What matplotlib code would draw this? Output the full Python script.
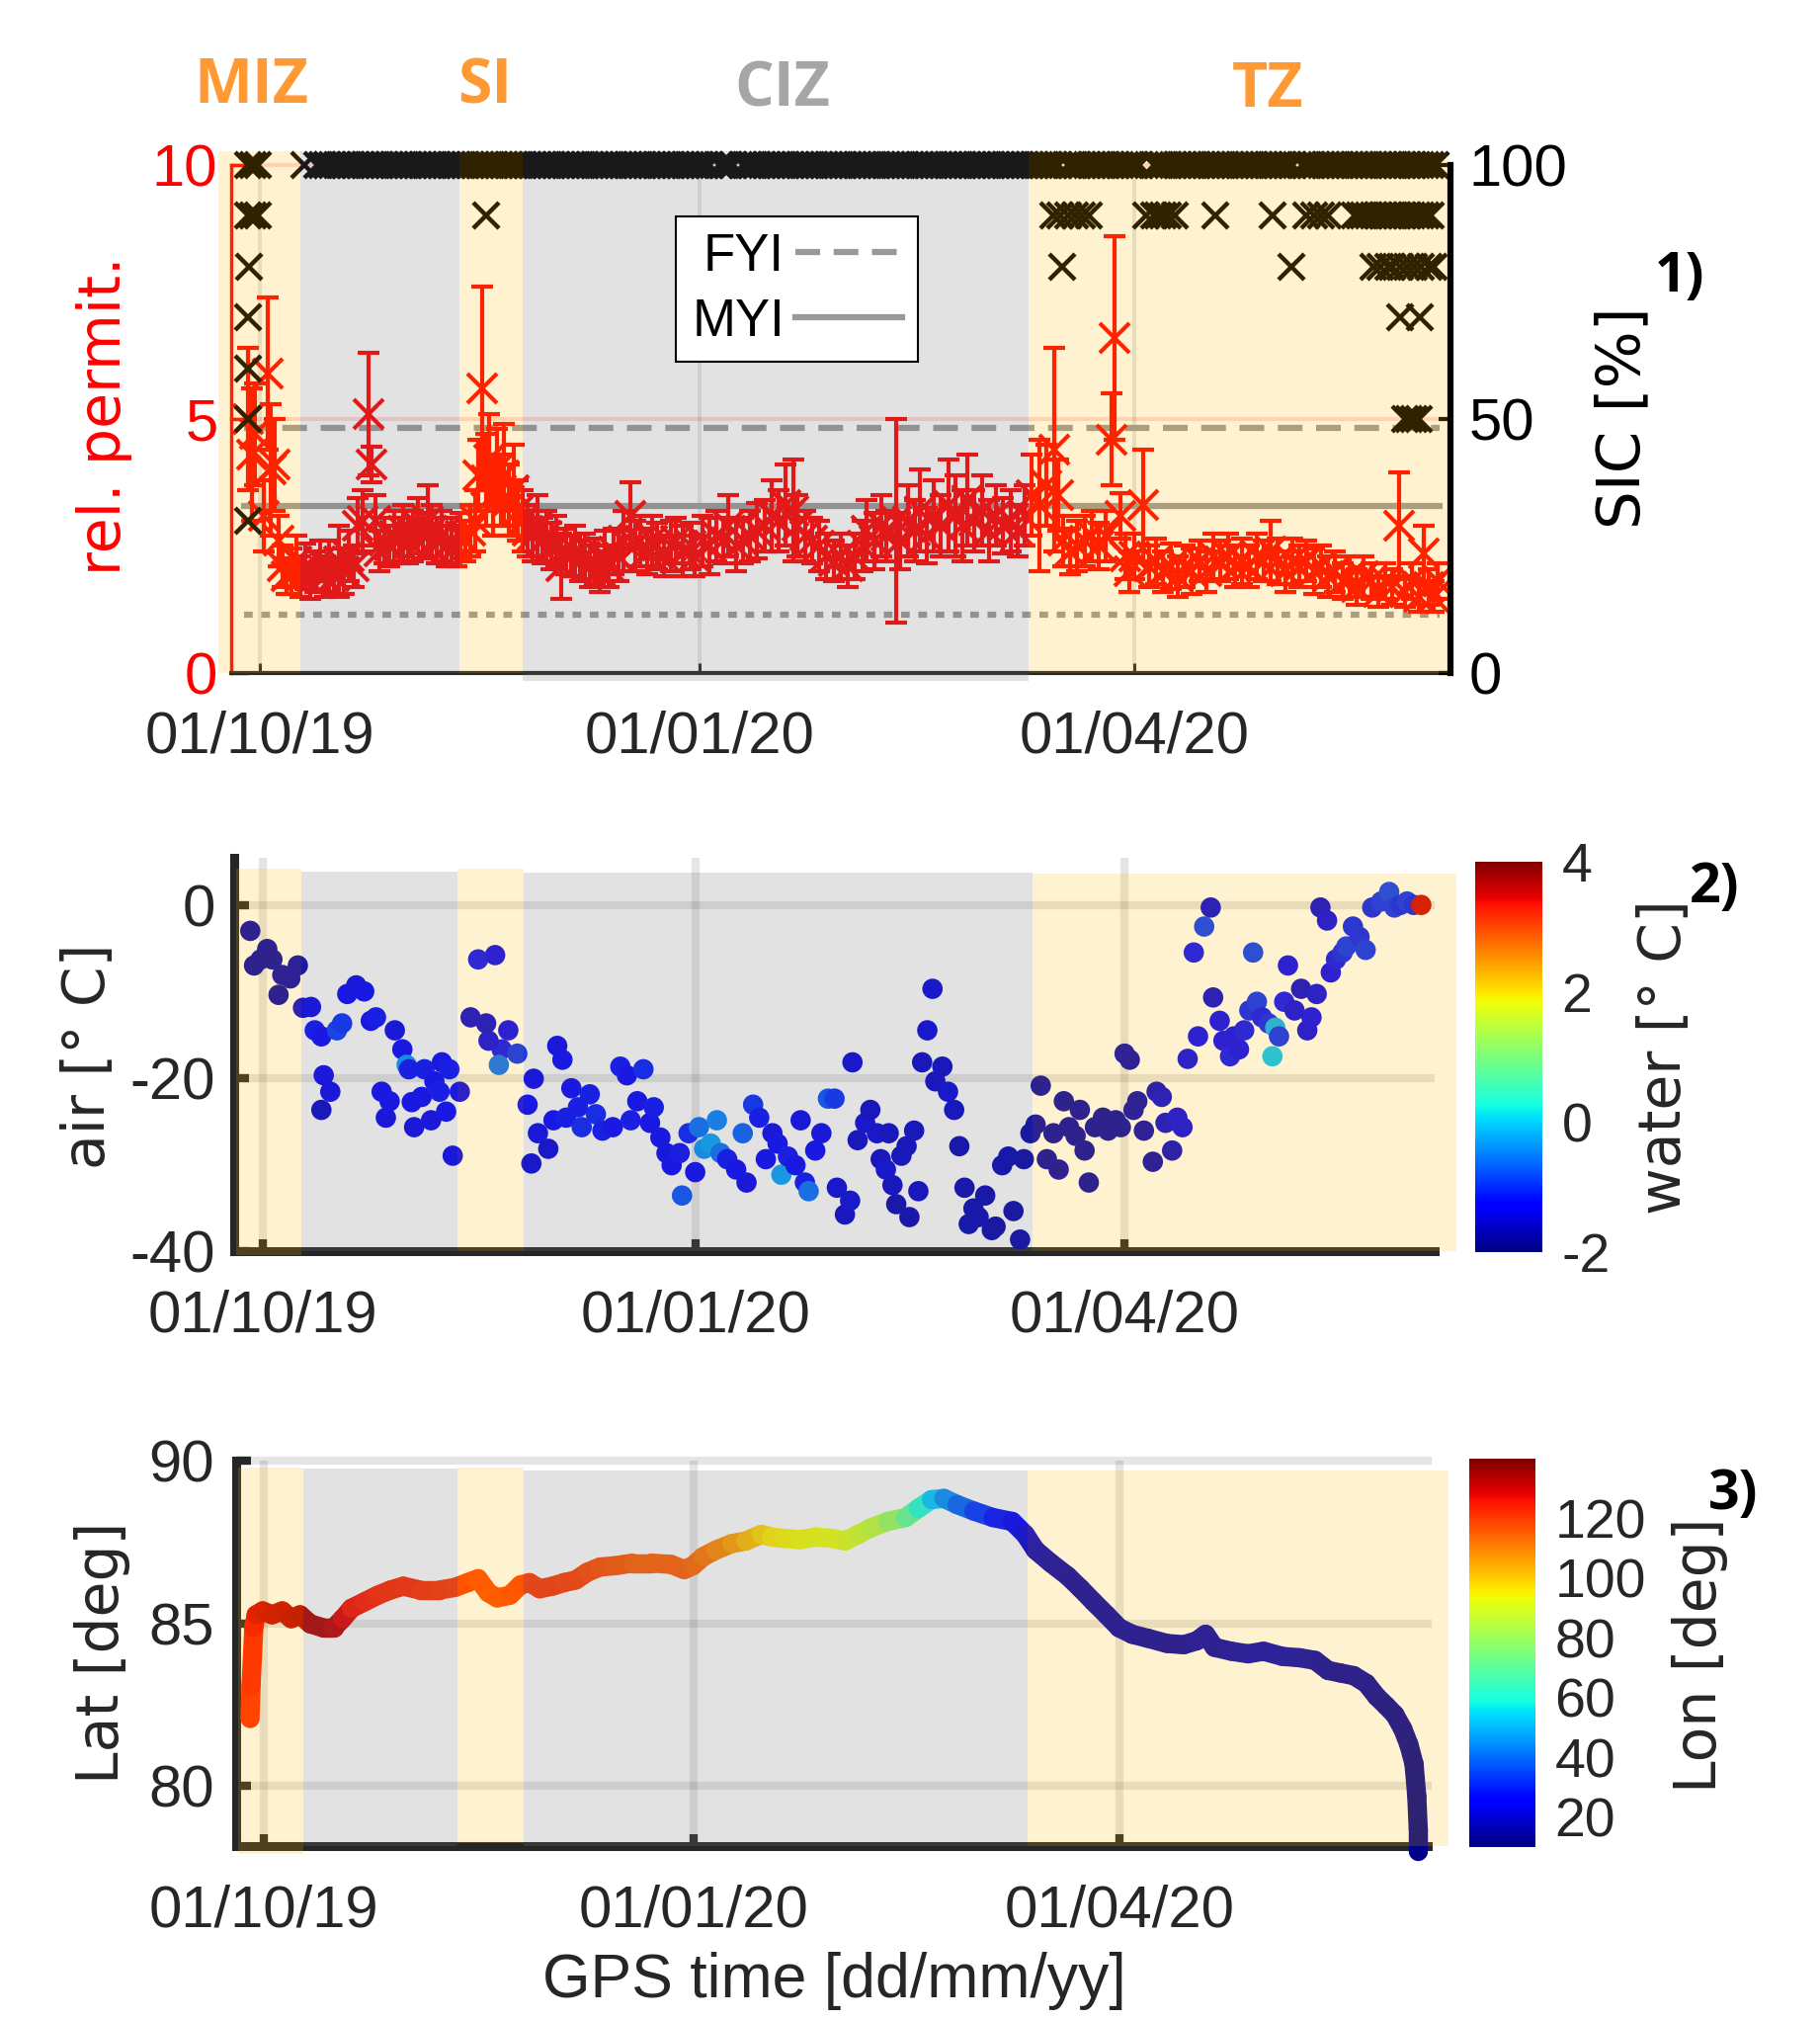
import numpy as np
import pandas as pd
import matplotlib
matplotlib.use("Agg")
import matplotlib.pyplot as plt
import matplotlib.dates as mdates
import matplotlib.transforms as mtransforms
from matplotlib.collections import LineCollection
from matplotlib.patches import Rectangle
from matplotlib.lines import Line2D
from matplotlib.cm import ScalarMappable
from matplotlib.colors import Normalize

plt.rcParams['font.family'] = ['Liberation Sans', 'DejaVu Sans']
plt.rcParams['axes.unicode_minus'] = False

# all times are days after 01/10/2019
START = pd.Timestamp('2019-10-01')
tick_dates = ['2019-10-01', '2020-01-01', '2020-04-01']

# ice zones: yellow = MIZ / SI / TZ, grey = CIZ
zone_kind = ['y', 'g', 'y', 'g', 'y']
zone_edges_top = [-8.8, 8.5, 41.7, 54.9, 160.8, 248.4]
zone_edges_low = [-5.5, 8.3, 41.4, 55.5, 163.5, 253.5]

# ---- panel 1: relative permittivity (left) and SIC (right) ----
perm_days = [-2.5, -1.8, -1.0, 0.8, 1.6, 2.3, 3.0, 3.8, 4.6, 5.5, 6.5, 7.5, 8.5, 9.5, 10.5,
             11.5, 12.5, 13.5, 14.5, 15.5, 16.5, 17.5, 18.5, 19.5, 20.5, 21.5, 22.7, 23.4, 24.2,
             25, 26, 27, 28, 29, 30, 31, 32, 33, 34, 35, 36, 37, 38, 39, 40, 41, 42, 43, 44, 45,
             45.6, 46.5, 47.2, 48.0, 48.8, 49.5, 50.3, 51, 52, 53, 54, 55, 56, 57, 58, 59, 60,
             61, 62, 63, 64, 65, 66, 67, 68, 69, 70, 71, 72, 73, 74, 75, 76, 77.5, 78.5, 79.5,
             81, 82, 83, 84.5, 86, 87, 88.5, 90, 91, 92.5, 94, 95.5, 97, 98, 99.5, 101, 102.5,
             104, 105.5, 107, 108.5, 110, 111.5, 112.5, 114, 115.5, 117, 118.5, 120, 121.5, 123,
             124.5, 126, 127, 128.5, 130, 131, 133, 134, 135.5, 137, 138, 139.5, 141, 142.5, 144,
             145.5, 147, 148, 149.5, 151, 152.5, 154, 155.5, 157, 158.5, 160, 161.5, 163, 164.5,
             166.1, 167, 168, 169.5, 171, 172.5, 174, 175.5, 177, 178.2, 178.9, 180, 181, 182,
             183, 184.7, 186, 187.5, 189, 190.5, 192, 193.5, 195, 196.5, 198, 199.5, 201, 202.5,
             204, 205.5, 207, 208.5, 210, 211.5, 213, 214.5, 216, 217.5, 219, 220.5, 222, 223.5,
             225, 226.5, 228, 229.5, 231, 232.5, 234, 235.5, 237, 238.4, 239.5, 241, 242.5,
             243.6, 244.5, 245.5, 246.5]
perm_vals = [5.0, 4.3, 4.7, 3.1, 5.9, 4.0, 4.1, 2.6, 2.1, 1.9, 2.0, 2.2, 1.9, 2.1, 1.8,
             2.0, 2.2, 1.9, 2.1, 1.9, 2.2, 2.0, 2.3, 2.1, 2.9, 3.0, 5.1, 4.1, 3.0,
             2.4, 2.6, 2.5, 2.7, 2.6, 2.8, 2.6, 2.7, 2.9, 2.7, 3.0, 2.8, 2.6, 2.7, 2.5, 2.6, 2.5, 2.7, 2.6, 2.8, 3.0,
             3.9, 5.6, 3.8, 4.2, 3.5, 4.0, 3.6, 3.9, 3.4, 3.6, 3.2, 3.0, 2.8, 2.7, 2.9, 2.6, 2.7,
             2.5, 2.6, 2.1, 2.4, 2.3, 2.4, 2.2, 2.3, 2.1, 2.2, 2.0, 2.3, 2.1, 2.4, 2.3, 2.6, 3.1, 2.5, 2.6,
             2.4, 2.6, 2.5, 2.3, 2.5, 2.6, 2.4, 2.5, 2.3, 2.6, 2.5, 2.7, 2.6, 2.9, 2.5, 2.6, 2.7,
             2.8, 2.9, 3.1, 3.0, 3.3, 3.2, 2.9, 2.7, 2.6, 2.5, 2.3, 2.2, 2.3, 2.1,
             2.3, 2.5, 2.8, 2.6, 2.9, 2.7, 3.0, 2.6, 3.0, 2.8, 3.2, 2.7, 3.1, 2.9, 3.3,
             3.1, 2.9, 3.4, 3.0, 3.2, 2.8, 3.1, 2.9, 3.0, 2.8, 3.1, 3.5, 3.3, 3.7,
             4.4, 3.5, 2.6, 2.4, 2.5, 2.6, 2.7, 2.5, 2.7, 4.6, 6.6, 3.1, 2.3, 2.0,
             2.3, 3.3, 2.1, 2.2, 2.0, 2.1, 1.9, 2.1, 2.0, 2.2, 2.0, 2.3, 2.2, 2.3,
             2.1, 2.2, 2.1, 2.3, 2.2, 2.4, 2.2, 2.0, 2.2, 2.1, 2.2, 2.0, 2.1, 1.9,
             2.0, 1.8, 1.9, 1.7, 1.9, 1.8, 1.6, 1.8, 1.7, 2.9, 1.6, 1.8, 1.5,
             2.35, 1.7, 1.5, 1.8]
perm_errs = [1.4, 1.3, 1.0, 0.7, 1.5, 1.3, 0.9, 0.5, 0.4, 0.35, 0.45, 0.5, 0.4, 0.45, 0.35,
             0.4, 0.4, 0.4, 0.5, 0.35, 0.7, 0.45, 0.5, 0.4, 0.55, 0.6, 1.2, 0.35, 0.5,
             0.4, 0.45, 0.4, 0.5, 0.45, 0.5, 0.45, 0.5, 0.55, 0.45, 0.7, 0.5, 0.45, 0.5, 0.4, 0.45, 0.4, 0.45, 0.4, 0.5, 0.6,
             0.7, 2.0, 0.9, 0.9, 0.8, 0.8, 0.7, 1.0, 0.7, 0.9, 0.6, 0.6, 0.5, 0.5, 0.6, 0.45, 0.5,
             0.45, 0.5, 0.65, 0.45, 0.4, 0.5, 0.4, 0.45, 0.4, 0.45, 0.4, 0.5, 0.4, 0.45, 0.5, 0.6, 0.65, 0.5, 0.5,
             0.45, 0.5, 0.45, 0.4, 0.5, 0.45, 0.5, 0.45, 0.4, 0.5, 0.55, 0.5, 0.45, 0.6, 0.5, 0.45, 0.5,
             0.55, 0.5, 0.7, 0.6, 0.8, 1.0, 0.6, 0.5, 0.45, 0.5, 0.45, 0.4, 0.45, 0.4,
             0.45, 0.5, 0.6, 0.55, 0.6, 0.5, 2.0, 0.55, 0.7, 0.6, 0.8, 0.55, 0.7, 0.6, 0.9,
             0.8, 0.7, 0.9, 0.6, 0.7, 0.6, 0.6, 0.55, 0.6, 0.5, 0.6, 0.8, 1.3, 0.8,
             2.0, 0.7, 0.5, 0.45, 0.5, 0.5, 0.5, 0.45, 0.5, 0.9, 2.0, 0.45, 0.45, 0.4,
             0.45, 1.1, 0.4, 0.45, 0.4, 0.45, 0.4, 0.4, 0.45, 0.4, 0.4, 0.45, 0.4, 0.45,
             0.4, 0.45, 0.4, 0.45, 0.4, 0.6, 0.45, 0.4, 0.45, 0.4, 0.4, 0.45, 0.4, 0.4,
             0.4, 0.35, 0.4, 0.35, 0.4, 0.35, 0.3, 0.35, 0.35, 1.05, 0.3, 0.35, 0.3,
             0.55, 0.35, 0.3, 0.35]

fyi_permit = 4.83
myi_permit = 3.29
dry_permit = 1.14

sic100_days = [-2.5, -1.5, -0.5, 9.3, 12,
               13, 14, 15, 16, 17, 18, 19, 20, 21, 22, 23, 24, 25, 26, 27, 28, 29, 30, 31, 32,
               33, 34, 35, 36, 37, 38, 39, 40, 41, 42, 43, 44, 45, 46, 47, 48, 49, 50, 51, 52,
               53, 54, 55, 56, 57, 58, 59, 60, 61, 62, 63, 64, 65, 66, 67, 68, 69, 70, 71, 72,
               73, 74, 75, 76, 77, 78, 79, 80, 81, 82, 83, 84, 85, 86, 87, 88, 89, 90, 91, 92,
               93, 94, 96, 97, 98, 99, 101, 102, 103, 104, 105, 106, 107, 108, 109, 110, 111, 112, 113, 114,
               115, 116, 117, 118, 119, 120, 121, 122, 123, 124, 125, 126, 127, 128, 129, 130, 131, 132, 133, 134,
               135, 136, 137, 138, 139, 140, 141, 142, 143, 144, 145, 146, 147, 148, 149, 150, 151, 152, 153, 154,
               155, 156, 157, 158, 159, 160, 161, 162, 163, 164, 165, 166, 167, 169, 170, 171, 172, 173, 174, 175,
               176, 177, 178, 179, 180, 181, 182, 183, 184, 187, 188, 189, 190, 191, 192, 193, 194, 195, 196, 197,
               198, 199, 200, 201, 202, 203, 204, 205, 206, 207, 208, 209, 210, 211, 212, 213, 214, 215, 216, 218,
               219, 220, 221, 222, 223, 224, 225, 226, 227, 228, 229, 230, 231, 232, 233, 234, 235, 236, 237, 238,
               239, 240, 241, 242, 243, 244, 245, 246]
sic90_days = [-2.5, -1.5, -0.5, 47.2, 166, 167.5, 169, 170.5, 172, 173.5, 185.5, 187, 188, 189,
              190, 191.5, 199.9, 211.9, 219, 220.5, 222, 223.5, 229, 230, 231, 232, 233, 234,
              235, 236, 237, 238, 239, 240, 241, 242, 243, 244, 245]
sic80_days = [-2.3, 167.8, 215.8, 233, 234.5, 236, 237, 238.5, 240, 241.5, 243, 244.5, 245.5]
sic70_days = [-2.6, 238.5, 242.6]
sic60_days = [-2.6]
sic50_days = [-2.6, 239.5, 240.5, 241.5, 242.5]
sic30_days = [-2.6]

# ---- panel 2: air temperature coloured by water temperature ----
air_days = [-2.6, -1.8, -0.4, 1.0, 2.1, 3.4, 4.2, 5.9, 7.5, 8.6, 10.3, 11.1, 12.5, 13.0, 14.4,
            12.5, 15.8, 16.9, 18.0, 19.9, 21.6, 23.0, 24.1, 25.3, 26.2, 27.0, 28.1, 29.7, 30.6,
            31.7, 31.1, 32.2, 34.4, 33.8, 35.8, 36.5, 37.6, 39.0, 40.4, 38.1, 39.7, 41.9, 44.2,
            45.8, 47.5, 49.4, 50.8, 52.2, 48.0, 54.1, 50.2, 56.3, 57.6, 57.1, 58.5, 60.7, 61.8,
            62.6, 63.7, 64.5, 65.6, 67.0, 67.8, 69.5, 70.8, 72.2, 74.4, 76.0, 77.4, 78.2, 79.6,
            80.9, 82.3, 83.1, 84.5, 85.8, 86.9, 88.6, 89.1, 90.5, 91.9, 92.7, 93.8, 95.2, 96.5,
            97.3, 98.7, 100.6, 102.0, 102.8, 104.2, 105.5, 106.9, 108.3, 109.4, 110.2, 111.6,
            113.2, 114.3, 115.2, 116.0, 117.4, 118.7, 120.1, 121.5, 122.0, 123.7, 124.8, 125.3,
            126.4, 128.0, 129.1, 130.5, 131.3, 132.4, 133.0, 133.8, 134.6, 135.7, 136.8, 137.4,
            138.4, 139.3, 140.1, 141.2, 142.3, 142.9, 144.4, 145.6, 146.9, 148.0, 149.1, 150.0,
            151.0, 152.1, 153.5, 154.9, 155.7, 157.1, 158.4, 159.5, 160.9, 161.7, 163.1, 164.2,
            165.3, 166.6, 168.0, 169.1, 170.2, 171.3, 172.7, 173.6, 174.6, 175.5, 176.8, 178.5,
            179.6, 181.2, 182.3, 183.1, 184.2, 185.0, 185.8, 187.2, 189.1, 189.9, 191.0, 191.8,
            193.2, 194.3, 195.4, 196.5, 197.8, 198.7, 200.0, 201.4, 201.9, 203.3, 204.1, 205.5,
            206.3, 207.4, 208.5, 209.6, 210.4, 211.2, 212.3, 213.7, 214.5, 215.1, 215.9, 217.0,
            217.8, 219.2, 220.6, 221.9, 222.8, 223.9, 224.7, 226.1, 226.9, 228.0, 229.4, 230.2,
            231.6, 233.0, 234.3, 235.7, 237.6, 239.3, 240.4, 241.7, 243.1, 244.5, 246.1]
air_temp = [-3.0, -7.0, -6.3, -5.1, -6.3, -10.4, -8.1, -8.5, -7.0, -11.9, -11.8, -14.5, -15.2, -19.7, -21.6,
            -23.7, -14.5, -13.7, -10.3, -9.3, -10.0, -13.4, -13.0, -21.6, -24.6, -22.7, -14.5, -16.7, -18.5,
            -22.8, -19.0, -25.7, -19.0, -22.2, -24.9, -20.4, -21.6, -23.9, -29.0, -18.2, -19.0, -21.6, -13.0,
            -6.3, -13.7, -5.8, -16.7, -14.5, -15.7, -17.2, -18.5, -23.1, -20.1, -29.9, -26.4, -28.2, -24.9,
            -16.3, -17.9, -24.6, -21.2, -23.4, -25.7, -21.9, -24.2, -26.1, -25.7, -18.7, -19.7, -24.9, -22.7,
            -19.0, -25.2, -23.4, -26.9, -28.7, -30.1, -28.7, -33.6, -26.4, -30.9, -25.7, -28.2, -27.6, -24.9,
            -28.7, -29.4, -30.6, -26.4, -32.1, -23.1, -24.6, -29.4, -26.4, -27.6, -31.2, -29.1,
            -30.1, -24.9, -32.1, -33.1, -28.4, -26.4, -22.4, -22.4, -32.7, -35.8, -34.2, -18.2,
            -27.2, -25.2, -23.7, -26.4, -29.4, -30.6, -26.4, -32.4, -34.6, -29.0, -27.9, -36.1,
            -26.1, -33.1, -18.2, -14.5, -9.7, -20.4, -18.7, -21.6, -23.7, -27.9, -32.7, -36.9,
            -35.1, -36.1, -33.6, -37.6, -37.2, -30.1, -29.1, -35.4, -38.7, -29.4, -26.4, -25.4,
            -20.9, -29.4, -26.4, -30.6, -22.7, -25.7, -26.7, -23.7, -28.4, -32.1, -25.7, -24.6,
            -26.1, -24.9, -25.7, -17.2, -17.9, -23.7, -22.7, -26.1, -29.7, -21.6, -22.2, -25.2,
            -28.4, -24.6, -25.7, -17.8, -5.5, -15.2, -2.5, -0.3, -10.7, -13.4, -15.7, -17.5,
            -15.2, -16.7, -14.5, -12.2, -5.5, -11.2, -13.0, -13.7, -17.5, -14.2, -15.2, -11.2,
            -7.0, -12.2, -9.7, -14.5, -13.0, -10.3, -0.3, -1.8, -7.8, -6.3, -5.5, -4.8,
            -2.5, -3.7, -5.2, -0.3, 0.4, 1.5, -0.3, 0.0, 0.4, 0.0, 0.0]
water_temp = [-1.75, -1.75, -1.75, -1.75, -1.75, -1.75, -1.7, -1.7, -1.7, -1.5, -1.4, -1.2, -1.3, -1.4, -1.4,
              -1.6, -0.9, -1.0, -1.3, -1.4, -1.3, -1.3, -1.2, -1.3, -1.4, -1.3, -1.4, -1.3, -0.4,
              -1.3, -1.2, -1.4, -1.2, -1.3, -1.4, -1.3, -1.2, -1.3, -1.4, -1.3, -1.2, -1.4, -1.5,
              -1.2, -1.5, -1.3, -1.2, -1.3, -1.4, -1.0, -0.6, -1.3, -1.4, -1.5, -1.4, -1.5, -1.3,
              -1.4, -1.3, -1.2, -1.3, -1.2, -1.1, -1.2, -1.1, -1.2, -1.3, -1.2, -1.3, -1.2, -1.3,
              -1.1, -1.3, -1.2, -1.3, -1.4, -1.3, -1.2, -0.8, -1.1, -1.3, -0.6, -0.4, -0.3, -0.5,
              -0.6, -1.2, -1.3, -0.7, -1.4, -1.0, -1.2, -1.3, -1.4, -1.3, -0.3, -1.2,
              -1.3, -1.4, -1.2, -0.6, -1.3, -1.4, -0.8, -1.0, -1.5, -1.6, -1.5, -1.5,
              -1.6, -1.5, -1.6, -1.5, -1.6, -1.5, -1.6, -1.6, -1.7, -1.6, -1.6, -1.7,
              -1.6, -1.6, -1.6, -1.5, -1.5, -1.6, -1.6, -1.5, -1.6, -1.7, -1.7, -1.7,
              -1.7, -1.7, -1.7, -1.75, -1.75, -1.7, -1.7, -1.75, -1.75, -1.75, -1.75, -1.75,
              -1.75, -1.75, -1.75, -1.75, -1.75, -1.75, -1.75, -1.75, -1.75, -1.75, -1.75, -1.75,
              -1.75, -1.75, -1.75, -1.7, -1.7, -1.7, -1.7, -1.7, -1.7, -1.6, -1.5, -1.5,
              -1.6, -1.4, -1.4, -1.4, -1.2, -1.3, -0.9, -1.5, -1.5, -1.3, -1.3, -1.2,
              -1.3, -1.3, -1.2, -1.1, -0.9, -1.0, -1.2, -1.1, -0.1, -0.2, -1.0, -1.2,
              -1.3, -1.4, -1.5, -1.4, -1.3, -1.4, -1.5, -1.4, -1.3, -1.2, -1.1, -1.0,
              -1.1, -1.1, -1.0, -1.1, -1.0, -0.9, -1.0, -1.1, -1.0, -1.1, 3.6]

# ---- panel 3: drift track, latitude coloured by longitude ----
gps_days = [-3.0, -2.8, -2.2, -1.7, -0.3, 1.7, 3.9, 5.8, 7.7, 9.9, 12.7, 14.9, 16.8, 18.7, 21.5,
            24.3, 27.0, 29.8, 33.4, 37.5, 40.8, 43.6, 45.8, 48.0, 49.9, 52.6, 54.9, 56.8, 59.0,
            61.7, 64.2, 66.7, 69.2, 71.9, 75.2, 78.8, 82.9, 87.1, 89.9, 91.8, 94.0, 96.7, 100.1,
            103.1, 106.4, 108.6, 111.4, 114.7, 118.0, 121.6, 124.3, 127.1, 129.8, 133.4, 137.3,
            140.0, 142.8, 145.5, 148.3, 151.9, 156.0, 160.1, 162.9, 165.1, 168.4, 172.0, 174.8,
            177.5, 180.3, 183.0, 185.8, 189.1, 193.2, 196.8, 199.6, 201.5, 203.4, 207.0, 210.6,
            213.9, 218.0, 221.6, 224.9, 227.7, 230.4, 233.2, 235.9, 238.1, 240.1, 242.0, 243.7,
            245.0, 246.1, 246.7, 247.0, 247.0]
gps_lat = [82.07, 83.07, 84.86, 85.26, 85.38, 85.26, 85.38, 85.14, 85.26, 84.98, 84.86, 84.86, 85.14, 85.46, 85.66,
           85.86, 86.02, 86.14, 86.02, 86.02, 86.10, 86.25, 86.37, 85.94, 85.78, 85.86, 86.18, 86.25, 86.06,
           86.14, 86.25, 86.33, 86.57, 86.73, 86.77, 86.85, 86.85, 86.81, 86.65, 86.77, 87.05, 87.25, 87.45,
           87.53, 87.73, 87.65, 87.61, 87.57, 87.65, 87.61, 87.53, 87.73, 87.93, 88.13, 88.25,
           88.53, 88.80, 88.84, 88.65, 88.45, 88.25, 88.13, 87.73, 87.25, 86.85, 86.45, 86.06,
           85.66, 85.26, 84.86, 84.66, 84.54, 84.38, 84.34, 84.46, 84.66, 84.26, 84.14, 84.06,
           84.14, 83.98, 83.94, 83.86, 83.55, 83.47, 83.39, 83.15, 82.75, 82.47, 82.19, 81.75,
           81.27, 80.68, 79.68, 78.69, 78.00]
gps_lon = [122, 123, 125, 128, 130, 131, 132, 132, 133, 134, 135, 134, 131, 127, 125,
           124, 123, 123, 122, 121, 121, 120, 119, 118, 118, 119, 119, 120, 120,
           121, 120, 120, 119, 118, 117, 116, 115, 115, 116, 115, 113, 111, 108,
           104, 100, 97, 95, 94, 93, 93, 92, 90, 88, 84, 76,
           66, 56, 48, 42, 36, 30, 26, 22, 19, 17, 16, 16,
           16, 16, 16, 16, 16, 15, 15, 16, 17, 16, 16, 17,
           17, 17, 17, 16, 16, 15, 15, 15, 15, 14, 14, 14,
           13, 13, 12, 12, 11]


def to_num(days):
    return mdates.date2num(START) + np.asarray(days, dtype=float)


W, H = 1842, 2043
fig = plt.figure(figsize=(W / 100, H / 100), dpi=100)
TXT = '#262626'


def px_axes(left, top, right, bottom):
    return fig.add_axes([left / W, 1 - bottom / H, (right - left) / W, (bottom - top) / H])


def fx(x):
    return x / W


def fy(y):
    return 1 - y / H


xlim = to_num([-6, 249])
xt = mdates.datestr2num(tick_dates)
xtl = [pd.Timestamp(d).strftime('%d/%m/%y') for d in tick_dates]
YEL = (1.0, 0.725, 0.0)
GRY = (0.478, 0.478, 0.478)


def shade(ax, edges, tops, bottoms):
    trans = mtransforms.blended_transform_factory(ax.transData, ax.transAxes)
    x = to_num(edges)
    for i, kind in enumerate(zone_kind):
        col, a = (YEL, 0.184) if kind == 'y' else (GRY, 0.21)
        ax.add_patch(Rectangle((x[i], bottoms[i]), x[i + 1] - x[i], tops[i] - bottoms[i],
                               transform=trans, facecolor=col, alpha=a, edgecolor='none',
                               zorder=10, clip_on=False))


# ================= panel 1 =================
ax1 = px_axes(234.3, 167, 1467.5, 681)
ax2 = ax1.twinx()
ax1.set_xlim(xlim)
ax1.set_ylim(0, 10)
ax2.set_ylim(0, 100)

for v in (5, 10):
    ax1.axhline(v, color='red', alpha=0.15, lw=3, zorder=1, clip_on=False)
for x in xt:
    ax1.axvline(x, color='k', alpha=0.1, lw=3, zorder=1)

xr = to_num([min(perm_days) - 0.9, max(perm_days) + 0.3])
ax1.plot(xr, [fyi_permit] * 2, color='#999999', lw=4.5, ls=(0, (4, 2.2)), zorder=2)
ax1.plot(xr, [myi_permit] * 2, color='#999999', lw=4.5, ls='-', zorder=2)
ax1.plot(xr, [dry_permit] * 2, color='#999999', lw=4.5, ls=(0, (1.4, 1.4)), zorder=2)

ax1.errorbar(to_num(perm_days), perm_vals, yerr=perm_errs, fmt='x', color='red', ms=21, mew=3,
             elinewidth=3, capsize=8, capthick=3, zorder=3)

for lev, days in [(100, sic100_days), (90, sic90_days), (80, sic80_days), (70, sic70_days),
                  (60, sic60_days), (50, sic50_days), (30, sic30_days)]:
    ax2.plot(to_num(days), [lev] * len(days), 'x', color='k', ms=19, mew=3.2, zorder=3, clip_on=False)

shade(ax2, zone_edges_top, [1.028] * 5, [0, 0, 0, -0.016, 0])

ax1.set_xticks(xt)
ax1.set_xticklabels(xtl)
ax1.set_yticks([0, 5, 10])
ax2.set_yticks([0, 50, 100])
ax1.tick_params(axis='x', direction='in', length=7, width=2.2, colors=TXT, labelsize=43, pad=27)
ax1.tick_params(axis='y', direction='in', length=12, width=2.5, colors='red', labelsize=43, pad=10)
ax2.tick_params(axis='y', direction='in', length=9, width=3, colors='k', labelsize=43, pad=14)
for s in ('top', 'right'):
    ax1.spines[s].set_visible(False)
ax1.spines['left'].set_color('red')
ax1.spines['left'].set_linewidth(2.5)
ax1.spines['bottom'].set_color(TXT)
ax1.spines['bottom'].set_linewidth(3)
for s in ('top', 'left', 'bottom'):
    ax2.spines[s].set_visible(False)
ax2.spines['right'].set_color('k')
ax2.spines['right'].set_linewidth(4.5)

h_fyi = Line2D([], [], color='#999999', lw=4.5, ls=(0, (4, 2.2)))
h_myi = Line2D([], [], color='#999999', lw=4.5, ls='-')
leg = ax2.legend([h_fyi, h_myi], ['FYI', 'MYI'], loc='upper left', bbox_to_anchor=(0.365, 0.899),
                 markerfirst=False, fancybox=False, framealpha=1, edgecolor='k', fontsize=38,
                 handlelength=2.05, handletextpad=0.2, borderpad=0.3, labelspacing=0.3,
                 borderaxespad=0)
leg.get_frame().set_linewidth(1.5)
leg.set_zorder(20)

# ================= panel 2 =================
ax3 = px_axes(237.1, 868, 1452.2, 1265.7)
ax3.set_xlim(xlim)
ax3.set_ylim(-40, 5.45)
for v in (0, -20):
    ax3.axhline(v, color='k', alpha=0.1, lw=6, zorder=1)
for x in xt:
    ax3.axvline(x, color='k', alpha=0.1, lw=6, zorder=1)
sc = ax3.scatter(to_num(air_days), air_temp, c=water_temp, cmap='jet', vmin=-2, vmax=4, s=220,
                 edgecolors='none', zorder=3, clip_on=False)
shade(ax3, zone_edges_low, [0.9725, 0.966, 0.9725, 0.9615, 0.959], [-0.011, 0, 0, 0, 0])
ax3.set_xticks(xt)
ax3.set_xticklabels(xtl)
ax3.set_yticks([-40, -20, 0])
ax3.tick_params(axis='x', direction='in', length=9, width=6, colors=TXT, labelsize=43, pad=28)
ax3.tick_params(axis='y', direction='in', length=11, width=6, colors=TXT, labelsize=43, pad=14)
for s in ('top', 'right'):
    ax3.spines[s].set_visible(False)
for s in ('left', 'bottom'):
    ax3.spines[s].set_color(TXT)
    ax3.spines[s].set_linewidth(6.5)

cax2 = px_axes(1493, 872, 1561, 1267)
cb2 = fig.colorbar(sc, cax=cax2, ticks=[-2, 0, 2, 4])
cb2.outline.set_visible(False)
cax2.tick_params(length=0, labelsize=40, pad=14, colors=TXT)

# ================= panel 3 =================
ax4 = px_axes(238.9, 1478, 1444.8, 1868)
ax4.set_xlim(xlim)
ax4.set_ylim(78.15, 90)
for v in (80, 85, 90):
    ax4.axhline(v, color='k', alpha=0.1, lw=6, zorder=1, clip_on=False)
for x in xt:
    ax4.axvline(x, color='k', alpha=0.1, lw=6, zorder=1)
gx = to_num(gps_days)
pts = np.column_stack([gx, gps_lat])
segs = np.stack([pts[:-1], pts[1:]], axis=1)
lon = np.asarray(gps_lon, dtype=float)
norm3 = Normalize(10, 140)
lc = LineCollection(segs, cmap='jet', norm=norm3, linewidths=14, capstyle='round',
                    joinstyle='round', zorder=3, clip_on=False)
lc.set_array((lon[:-1] + lon[1:]) / 2)
ax4.add_collection(lc)
shade(ax4, zone_edges_low, [0.983, 0.979, 0.983, 0.975, 0.975], [-0.02, 0, 0.008, 0, 0])
ax4.set_xticks(xt)
ax4.set_xticklabels(xtl)
ax4.set_yticks([80, 85, 90])
ax4.tick_params(axis='x', direction='in', length=9, width=6, colors=TXT, labelsize=43, pad=28)
ax4.tick_params(axis='y', direction='in', length=11, width=6, colors=TXT, labelsize=43, pad=16)
for s in ('top', 'right'):
    ax4.spines[s].set_visible(False)
for s in ('left', 'bottom'):
    ax4.spines[s].set_color(TXT)
    ax4.spines[s].set_linewidth(6.5)

cax3 = px_axes(1487, 1476, 1554, 1869)
cb3 = fig.colorbar(ScalarMappable(norm=norm3, cmap='jet'), cax=cax3, ticks=[20, 40, 60, 80, 100, 120])
cb3.outline.set_visible(False)
cax3.tick_params(length=0, labelsize=40, pad=14, colors=TXT)

# ================= labels =================
lab = dict(rotation=90, ha='center', va='center', fontsize=42, family='DejaVu Sans', color=TXT)
fig.text(fx(105), fy(421), 'rel. permit.', **{**lab, 'color': 'red'})
fig.text(fx(1643), fy(423), 'SIC [%]', **{**lab, 'fontsize': 44, 'color': 'k'})
fig.text(fx(90), fy(1069), 'air [° C]', **lab)
fig.text(fx(1684), fy(1070), 'water [° C]', **lab)
fig.text(fx(104), fy(1672), 'Lat [deg]', **lab)
fig.text(fx(1720), fy(1675), 'Lon [deg]', **lab)
fig.text(fx(844), fy(2004), 'GPS time [dd/mm/yy]', ha='center', va='center', fontsize=45, color=TXT)

num = dict(ha='center', va='center', fontsize=40, fontweight='bold', family='Open Sans', color='k')
fig.text(fx(1700), fy(280), '1)', **num)
fig.text(fx(1735), fy(898), '2)', **num)
fig.text(fx(1754), fy(1513), '3)', **num)

zl = dict(ha='center', va='center', fontsize=45, fontweight='bold', family='Open Sans')
fig.text(fx(254), fy(88), 'MIZ', color='#ff9933', **zl)
fig.text(fx(491), fy(88), 'SI', color='#ff9933', **zl)
fig.text(fx(792), fy(91), 'CIZ', color='#a6a6a6', **zl)
fig.text(fx(1283), fy(91), 'TZ', color='#ff9933', **zl)

fig.savefig('out.png', dpi=100)
